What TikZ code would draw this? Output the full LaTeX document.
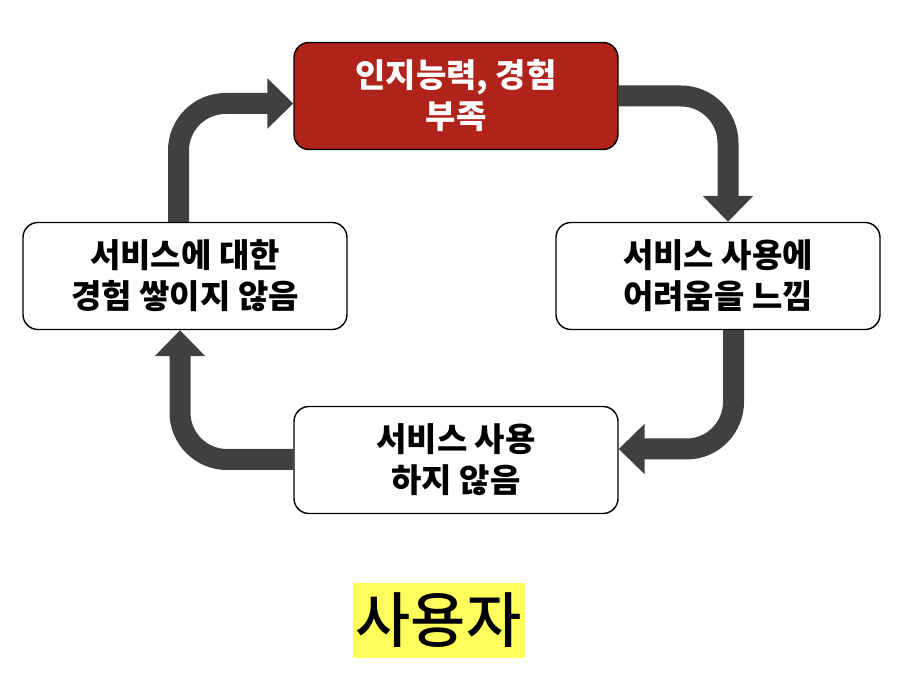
\documentclass[tikz,border=0pt]{standalone}
\usepackage{fontspec}
\newfontfamily\kr{Noto Sans CJK KR}
\newfontfamily\krm{Noto Sans CJK KR}[UprightFont={* Medium}]
\usetikzlibrary{arrows.meta,calc}
\definecolor{boxred}{HTML}{B0231A}
\definecolor{arrowgray}{HTML}{404040}
\definecolor{hl}{HTML}{FFFF5C}
\tikzset{
  stepbox/.style={draw=black, line width=1.4pt, rounded corners=15pt, fill=white,
    minimum width=324pt, minimum height=107pt, inner sep=0pt,
    align=center, font=\kr\bfseries\fontsize{33}{41}\selectfont},
  redbox/.style={stepbox, fill=boxred, text=white},
  flow/.style={draw=arrowgray, line width=21pt, rounded corners=47pt,
    -{Triangle[width=49pt,length=26pt]}},
}
\begin{document}
\begin{tikzpicture}[x=1pt,y=-1pt]
\useasboundingbox (0,0) rectangle (914,676);
\node[redbox] (top) at (456,96) {인지능력, 경험\\부족};
\node[stepbox] (right) at (718,276) {서비스 사용에\\어려움을 느낌};
\node[stepbox] (bottom) at (456,460) {서비스 사용\\하지 않음};
\node[stepbox] (left) at (185,276) {서비스에 대한\\경험 쌓이지 않음};
\node[fill=hl, inner sep=0pt, minimum width=172pt, minimum height=75pt,
  font=\krm\fontsize{60}{62}\selectfont] (user) at (438.5,620.5) {사용자};
\draw[flow] (top.east) -| ($(right.north)+(10,0)$);
\draw[flow] ($(right.south)+(15.5,0)$) |- ($(bottom.east)+(0,-11)$);
\draw[flow] ($(bottom.west)+(0,-0.5)$) -| ($(left.south)+(-5,0)$);
\draw[flow] ($(left.north)+(-6.5,0)$) |- ($(top.west)+(0,7.5)$);
\end{tikzpicture}
\end{document}
